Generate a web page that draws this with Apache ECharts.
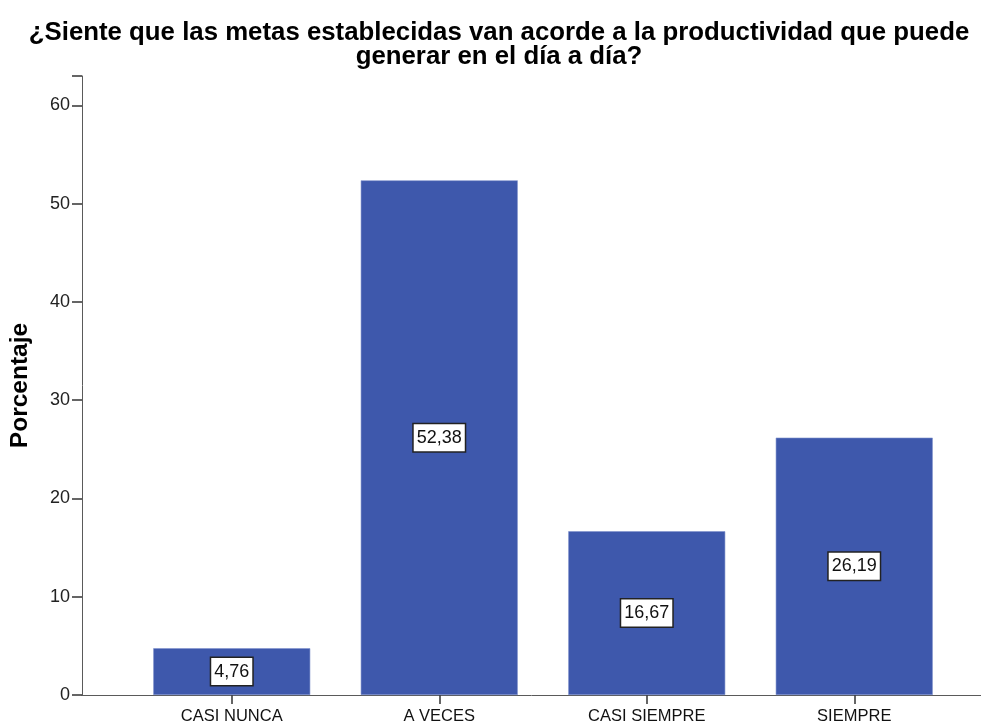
<!DOCTYPE html>
<html>
<head>
<meta charset="utf-8">
<script src="https://cdn.jsdelivr.net/npm/echarts@6/dist/echarts.min.js"></script>
<style>
  html, body { margin: 0; padding: 0; background: #fff; }
  #chart { width: 981px; height: 725px; }
</style>
</head>
<body>
<div id="chart"></div>
<script>
// Survey answers and their percentages
const categories = ['CASI NUNCA', 'A VECES', 'CASI SIEMPRE', 'SIEMPRE'];
const percentages = [4.76, 52.38, 16.67, 26.19];
const valueLabels = ['4,76', '52,38', '16,67', '26,19'];
const yTicks = [0, 10, 20, 30, 40, 50, 60];

const FONT = 'Liberation Sans, Arial, sans-serif';
const AXIS_COLOR = '#5a5a5a';
const Y_MAX = 63;

const chart = echarts.init(document.getElementById('chart'), null, { renderer: 'canvas' });

chart.setOption({
  animation: false,
  backgroundColor: '#ffffff',
  title: {
    text: '¿Siente que las metas establecidas van acorde a la productividad que puede\ngenerar en el día a día?',
    left: 494,
    top: 16,
    textAlign: 'center',
    textStyle: {
      fontFamily: FONT,
      fontWeight: 'bold',
      fontSize: 25.8,
      lineHeight: 24,
      color: '#000'
    }
  },
  grid: [
    // frame grid: y axis and full-width baseline
    { left: 82, right: -10, top: 76, bottom: 30 },
    // bar grid: category bands
    { left: 128, width: 830, top: 76, bottom: 30 }
  ],
  xAxis: [
    {
      gridIndex: 0,
      type: 'value',
      min: 0,
      max: 1,
      axisLine: { show: true, lineStyle: { color: AXIS_COLOR, width: 1 } },
      axisTick: { show: false },
      axisLabel: { show: false },
      splitLine: { show: false }
    },
    {
      gridIndex: 1,
      type: 'category',
      data: categories,
      boundaryGap: true,
      axisLine: { show: false },
      axisTick: {
        show: true,
        alignWithLabel: true,
        length: 9,
        lineStyle: { color: '#333', width: 1.5 }
      },
      axisLabel: {
        fontFamily: FONT,
        fontSize: 16.5,
        color: '#111',
        margin: 13
      },
      splitLine: { show: false }
    }
  ],
  yAxis: [
    {
      gridIndex: 0,
      type: 'value',
      min: 0,
      max: Y_MAX,
      interval: 10,
      name: 'Porcentaje',
      nameLocation: 'middle',
      nameGap: 49,
      nameTextStyle: {
        fontFamily: FONT,
        fontWeight: 'bold',
        fontSize: 24.5,
        color: '#000'
      },
      axisLine: { show: true, lineStyle: { color: AXIS_COLOR, width: 1 } },
      axisTick: { show: true, inside: false, length: 10, lineStyle: { color: '#333', width: 1.5 } },
      axisLabel: {
        fontFamily: FONT,
        fontSize: 18,
        color: '#222',
        margin: 12,
        formatter: v => (yTicks.includes(v) ? String(v) : '')
      },
      splitLine: { show: false }
    },
    {
      gridIndex: 1,
      type: 'value',
      min: 0,
      max: Y_MAX,
      show: false,
      splitLine: { show: false }
    }
  ],
  series: [
    {
      type: 'bar',
      xAxisIndex: 1,
      yAxisIndex: 1,
      data: percentages,
      barWidth: 157,
      itemStyle: { color: '#3e58ac', borderColor: '#7f92cc', borderWidth: 0.6 },
      label: {
        show: true,
        position: 'inside',
        formatter: p => valueLabels[p.dataIndex],
        fontFamily: FONT,
        fontSize: 18,
        color: '#111',
        backgroundColor: '#ffffff',
        borderColor: '#222',
        borderWidth: 1.5,
        padding: [5, 3, 4, 3]
      }
    }
  ]
});
</script>
</body>
</html>
